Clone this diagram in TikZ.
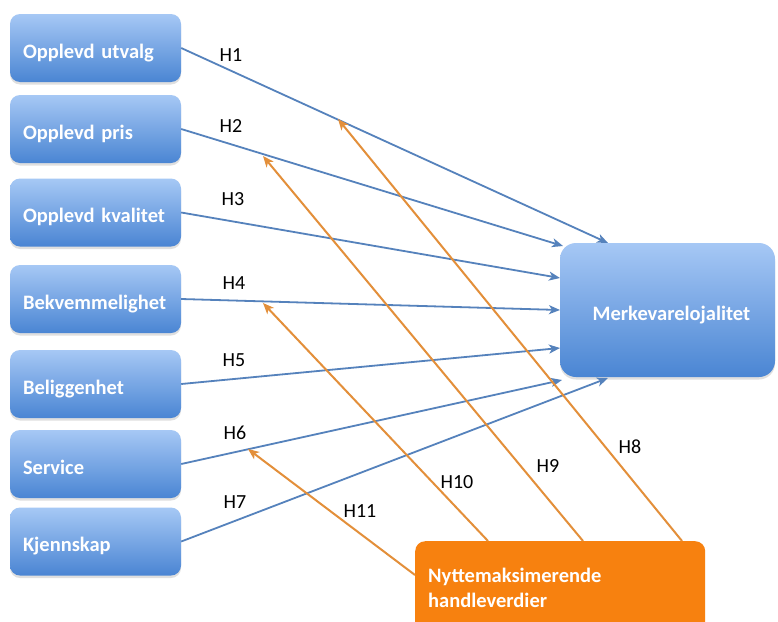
\documentclass[tikz,border=0pt]{standalone}
\usepackage{fontspec}
\setmainfont{Carlito}
\usetikzlibrary{arrows.meta,shadows}
\definecolor{boxtop}{HTML}{A6C8F5}
\definecolor{boxbot}{HTML}{4A85D3}
\definecolor{lineblue}{HTML}{5582BC}
\definecolor{orangefill}{HTML}{F7810F}
\definecolor{orangeline}{HTML}{E38F3A}
\newcommand{\myboxfont}{\bfseries\fontsize{20.5}{24}\selectfont\spaceskip=4pt plus 1pt\relax}
\begin{document}
\begin{tikzpicture}[x=1pt,y=-1pt,
  bluebox/.style={rounded corners=10pt, top color=boxtop, bottom color=boxbot, draw=none,
    drop shadow={opacity=0.25, shadow xshift=0pt, shadow yshift=-2.5pt},
    text=white, font=\myboxfont,
    inner sep=0pt, text height=22pt, text depth=2pt},
  leftbox/.style={bluebox, minimum width=171pt, minimum height=68pt, text width=171pt, align=left},
  hyplabel/.style={font=\fontsize{20}{24}\selectfont, text=black, inner sep=0pt},
  bluearrow/.style={draw=lineblue, line width=1.8pt, -{Stealth[length=11pt,width=9pt,inset=3pt]}},
  orangearrow/.style={draw=orangeline, line width=2pt, -{Stealth[length=11pt,width=9pt,inset=3pt]}}
]
\useasboundingbox[fill=white] (0,0) rectangle (778,621);

% left boxes
\node[leftbox] (b1) at (95.5,48)  {\hspace*{13pt}Opplevd utvalg};
\node[leftbox] (b2) at (95.5,129) {\hspace*{13pt}Opplevd pris};
\node[leftbox] (b3) at (95.5,212.5) {\hspace*{13pt}Opplevd kvalitet};
\node[leftbox] (b4) at (95.5,299) {\hspace*{13pt}Bekvemmelighet};
\node[leftbox] (b5) at (95.5,384) {\hspace*{13pt}Beliggenhet};
\node[leftbox] (b6) at (95.5,464) {\hspace*{13pt}Service};
\node[leftbox] (b7) at (95.5,541.5) {\hspace*{13pt}Kjennskap};

% right box
\node[bluebox, rounded corners=16pt, minimum width=215pt, minimum height=134pt] (M) at (667.5,310) {\hspace*{8pt}Merkevarelojalitet};

% orange box
\node[rounded corners=10pt, fill=orangefill, draw=none, anchor=north west,
      minimum width=290pt, minimum height=94pt, text width=264pt, inner xsep=13pt, inner ysep=0pt,
      align=left, text=white, font=\bfseries\fontsize{20.5}{25}\selectfont] (O) at (415,541)
      {Nyttemaksimerende\\handleverdier};

% arrow end points
\coordinate (e1) at (608,243);
\coordinate (e2) at (563,246);
\coordinate (e3) at (560,278);
\coordinate (e4) at (560,310);
\coordinate (e5) at (560,348);
\coordinate (e6) at (562,380);
\coordinate (e7) at (608,378);

\draw[bluearrow] (b1.east) -- (e1);
\draw[bluearrow] (b2.east) -- (e2);
\draw[bluearrow] (b3.east) -- (e3);
\draw[bluearrow] (b4.east) -- (e4);
\draw[bluearrow] (b5.east) -- (e5);
\draw[bluearrow] (b6.east) -- (e6);
\draw[bluearrow] (b7.east) -- (e7);

% orange arrows
\coordinate (s8) at (682,541);
\coordinate (s9) at (583,541);
\coordinate (s10) at (488,541);
\coordinate (s11) at (415,575);
\coordinate (t8) at (338,119);
\coordinate (t9) at (263,156);
\coordinate (t10) at (263,303);
\coordinate (t11) at (248,449);

\draw[orangearrow] (s8) -- (t8);
\draw[orangearrow] (s9) -- (t9);
\draw[orangearrow] (s10) -- (t10);
\draw[orangearrow] (s11) -- (t11);

% labels
\node[hyplabel] (h1) at (231,55) {H1};
\node[hyplabel] (h2) at (231,126) {H2};
\node[hyplabel] (h3) at (233,199) {H3};
\node[hyplabel] (h4) at (234,283) {H4};
\node[hyplabel] (h5) at (234,360) {H5};
\node[hyplabel] (h6) at (235,433) {H6};
\node[hyplabel] (h7) at (235,502) {H7};
\node[hyplabel] (h8) at (630,447) {H8};
\node[hyplabel] (h9) at (548,466) {H9};
\node[hyplabel] (h10) at (457,482) {H10};
\node[hyplabel] (h11) at (360,511) {H11};
\end{tikzpicture}
\end{document}
